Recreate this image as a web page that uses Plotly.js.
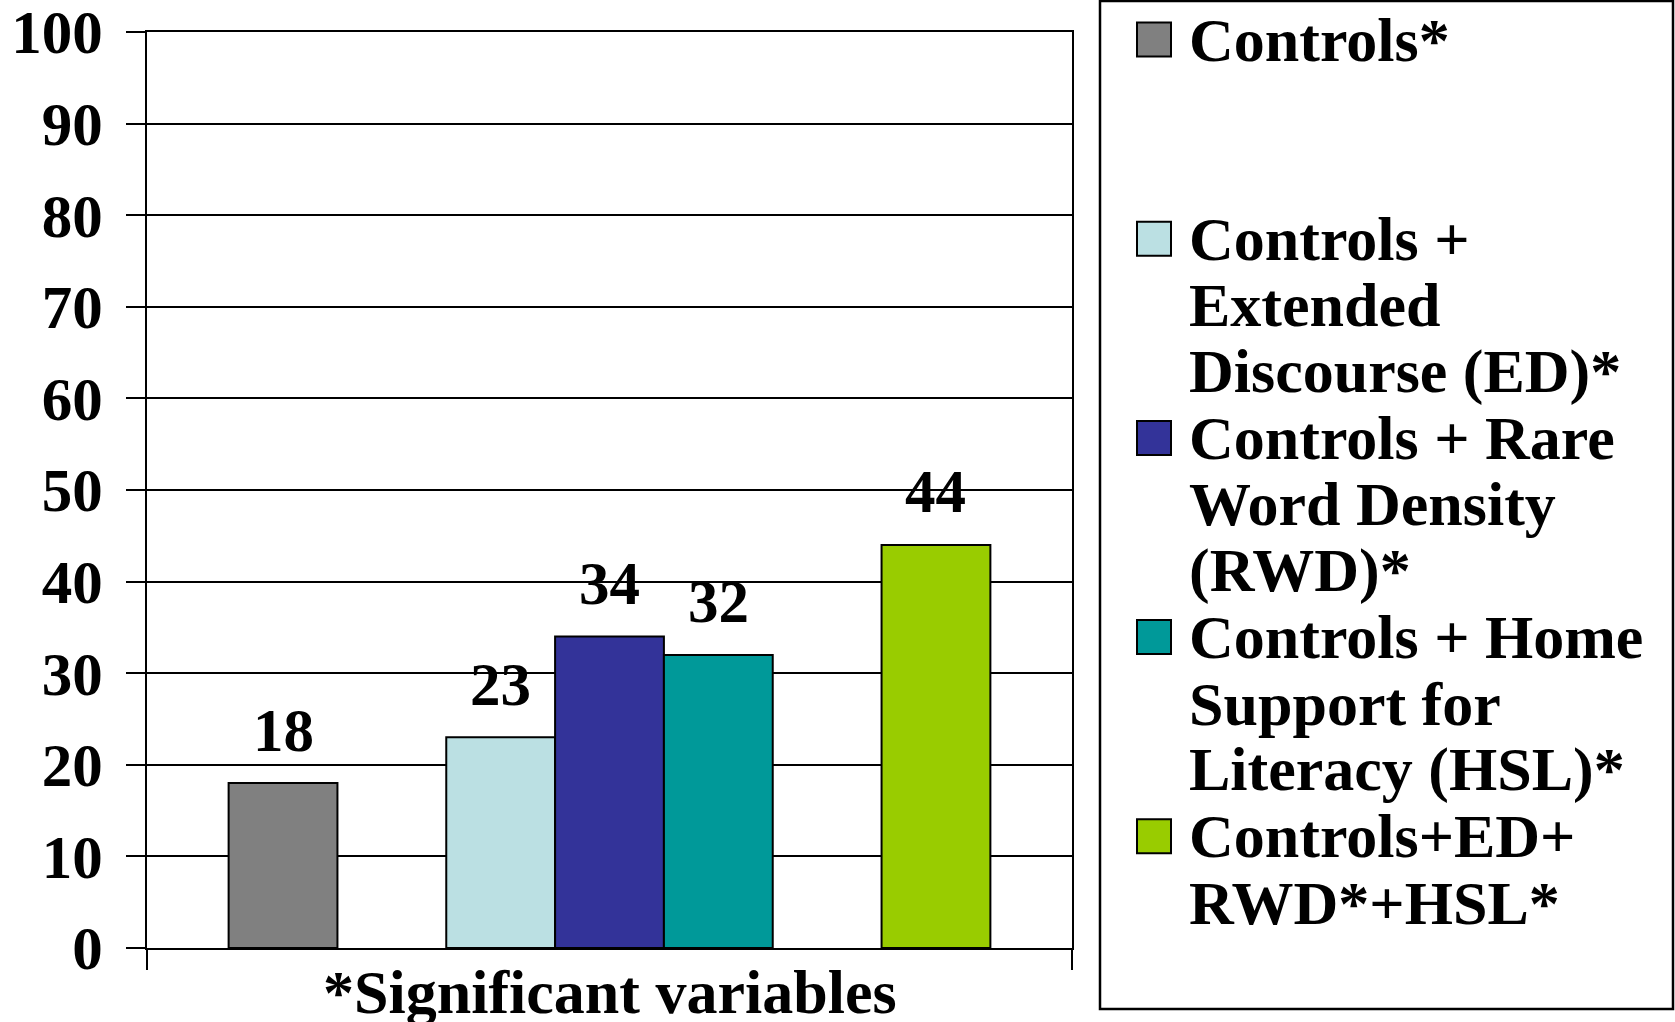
<!DOCTYPE html>
<html>
<head>
<meta charset="utf-8">
<script src="https://cdn.plot.ly/plotly-3.0.1.min.js"></script>
<style>
  html, body { margin: 0; padding: 0; background: #ffffff; }
  #chart { width: 1675px; height: 1022px; }
</style>
</head>
<body>
<div id="chart"></div>
<script>
// ---- data ----
const seriesNames = [
  'Controls*',
  '',
  'Controls +<br>Extended<br>Discourse (ED)*',
  'Controls + Rare<br>Word Density<br>(RWD)*',
  'Controls + Home<br>Support for<br>Literacy (HSL)*',
  '',
  'Controls+ED+<br>RWD*+HSL*'
];
const seriesValues = [18, null, 23, 34, 32, null, 44];
const seriesColors = ['#808080', null, '#BBE0E3', '#333399', '#009999', null, '#99CC00'];
const categoryLabel = '*Significant variables';
const yTickValues = [0, 10, 20, 30, 40, 50, 60, 70, 80, 90, 100];

// ---- layout geometry (pixels) ----
const W = 1675, H = 1022;
const L = 147, R = 1072, T = 32, B = 948;
const px2x = px => (px - L) / (R - L);
const py2y = py => (B - py) / (B - T);
const FONT = 'Liberation Serif, Times New Roman, serif';

const xMin = -1.25, xMax = seriesNames.length - 1 + 1.25;

const traces = [];
seriesNames.forEach((nm, i) => {
  if (seriesValues[i] === null) return;
  traces.push({
    type: 'bar',
    name: nm.replace(/<br>/g, ' '),
    x: [i],
    y: [seriesValues[i]],
    width: 1,
    marker: { color: seriesColors[i], line: { color: '#000000', width: 2 } },
    showlegend: false,
    hovertemplate: '%{y}<extra>' + nm.replace(/<br>/g, ' ') + '</extra>'
  });
});

const annotations = [];
const shapes = [];

// value labels above bars
seriesNames.forEach((nm, i) => {
  if (seriesValues[i] === null) return;
  annotations.push({
    x: i, y: seriesValues[i], xref: 'x', yref: 'y',
    text: String(seriesValues[i]),
    showarrow: false, xanchor: 'center', yanchor: 'middle', yshift: 53,
    font: { family: FONT, size: 61, color: '#000000', weight: 'bold' }
  });
});

// category label under axis
annotations.push({
  x: 0.5, xref: 'paper', y: py2y(992), yref: 'paper',
  text: categoryLabel, showarrow: false, xanchor: 'center', yanchor: 'middle',
  font: { family: FONT, size: 62, color: '#000000', weight: 'bold' }
});

// legend box
shapes.push({
  type: 'rect', xref: 'paper', yref: 'paper',
  x0: px2x(1100), x1: px2x(1673), y0: py2y(1), y1: py2y(1009),
  line: { color: '#000000', width: 2.5 }, fillcolor: 'rgba(0,0,0,0)'
});

// legend entries
const legendSpacerLines = { 1: 2 };
const lineStep = 66.4, firstLine = 39.5;
let lineIdx = 0;
seriesNames.forEach((nm, i) => {
  if (seriesValues[i] === null) { lineIdx += (legendSpacerLines[i] || 0); return; }
  const cy = firstLine + lineIdx * lineStep;
  shapes.push({
    type: 'rect', xref: 'paper', yref: 'paper',
    x0: px2x(1137), x1: px2x(1171), y0: py2y(cy - 17), y1: py2y(cy + 17),
    fillcolor: seriesColors[i], line: { color: '#000000', width: 2 }
  });
  nm.split('<br>').forEach(part => {
    const y = firstLine + lineIdx * lineStep;
    annotations.push({
      x: px2x(1187), xref: 'paper', y: py2y(y), yref: 'paper',
      text: part, showarrow: false, xanchor: 'left', yanchor: 'middle',
      font: { family: FONT, size: 62, color: '#000000', weight: 'bold' }
    });
    lineIdx += 1;
  });
});

const layout = {
  width: W, height: H,
  margin: { l: L, r: W - R, t: T, b: H - B, pad: 0 },
  paper_bgcolor: '#ffffff', plot_bgcolor: '#ffffff',
  showlegend: false,
  bargap: 0,
  xaxis: {
    range: [xMin, xMax], fixedrange: true,
    tickmode: 'array', tickvals: [xMin, xMax], showticklabels: false,
    ticks: 'outside', ticklen: 20, tickwidth: 2, tickcolor: '#000000',
    showgrid: false, zeroline: false,
    showline: true, linecolor: '#000000', linewidth: 2, mirror: true
  },
  yaxis: {
    range: [0, 100], fixedrange: true,
    tickmode: 'array', tickvals: yTickValues,
    ticks: 'outside', ticklen: 19, tickwidth: 2, tickcolor: '#000000',
    ticklabelstandoff: 11,
    ticklabeloverflow: 'allow',
    tickfont: { family: FONT, size: 61, color: '#000000', weight: 'bold' },
    showgrid: true, gridcolor: '#000000', gridwidth: 2,
    zeroline: false,
    showline: true, linecolor: '#000000', linewidth: 2, mirror: true
  },
  annotations: annotations,
  shapes: shapes
};

Plotly.newPlot('chart', traces, layout, { displayModeBar: false, staticPlot: true });
</script>
</body>
</html>
